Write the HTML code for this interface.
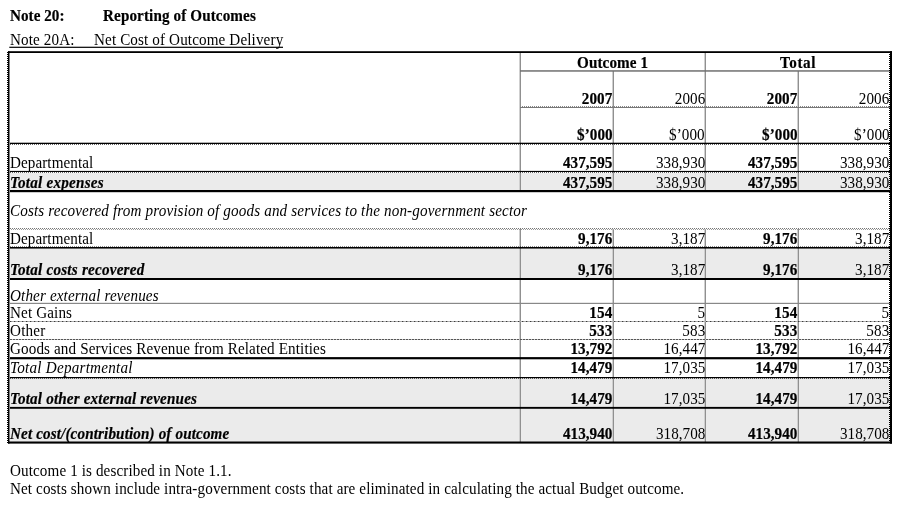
<!DOCTYPE html>
<html><head><meta charset="utf-8"><title>Note 20</title>
<style>
html,body{margin:0;padding:0;background:#fff}
body{width:900px;height:508px;position:relative;overflow:hidden;font-family:"Liberation Serif",serif;font-size:16px;color:#000}
.t{position:absolute;white-space:nowrap;line-height:20px;height:20px;transform:scaleX(0.945)}
.tl{transform-origin:0 0}.tr{transform-origin:100% 0;text-align:right}.tc{transform-origin:50% 0;text-align:center}
.l{position:absolute;box-sizing:content-box}
.b{font-weight:bold;-webkit-text-stroke:0.2px #000}.i{font-style:italic}
</style></head><body>
<svg class="l" style="left:0;top:0" width="900" height="508" viewBox="0 0 900 508"><rect x="10" y="173" width="880" height="17" fill="#ebebeb"/><rect x="10" y="249" width="880" height="29" fill="#ebebeb"/><rect x="10" y="379" width="880" height="28" fill="#ebebeb"/><rect x="10" y="409" width="880" height="33" fill="#ebebeb"/><rect x="520" y="53" width="1" height="138" fill="#909090"/><rect x="519" y="53" width="1" height="138" fill="#cfcfcf"/><rect x="520" y="229" width="1" height="213" fill="#909090"/><rect x="519" y="229" width="1" height="213" fill="#cfcfcf"/><rect x="705" y="53" width="1" height="138" fill="#909090"/><rect x="704" y="53" width="1" height="138" fill="#cfcfcf"/><rect x="705" y="229" width="1" height="213" fill="#909090"/><rect x="704" y="229" width="1" height="213" fill="#cfcfcf"/><rect x="613" y="71" width="1" height="120" fill="#909090"/><rect x="612" y="71" width="1" height="120" fill="#cfcfcf"/><rect x="613" y="229" width="1" height="213" fill="#909090"/><rect x="612" y="229" width="1" height="213" fill="#cfcfcf"/><rect x="798" y="71" width="1" height="120" fill="#909090"/><rect x="797" y="71" width="1" height="120" fill="#cfcfcf"/><rect x="798" y="229" width="1" height="213" fill="#909090"/><rect x="797" y="229" width="1" height="213" fill="#cfcfcf"/><rect x="520" y="70.2" width="370" height="1.5" fill="#707070"/><rect x="520" y="107" width="370" height="1" fill="#777"/><line x1="520" y1="106.5" x2="890" y2="106.5" stroke="#888" stroke-width="1" stroke-dasharray="1 1" stroke-opacity="1"/><line x1="10" y1="228.5" x2="890" y2="228.5" stroke="#777" stroke-width="1" stroke-dasharray="1 1" stroke-opacity="1"/><line x1="11" y1="229.5" x2="890" y2="229.5" stroke="#999" stroke-width="1" stroke-dasharray="1 1" stroke-opacity="1"/><rect x="10" y="302.8" width="880" height="1.2" fill="#888"/><rect x="10" y="321" width="880" height="1" fill="#b0b0b0"/><line x1="10" y1="321.5" x2="890" y2="321.5" stroke="#3a3a3a" stroke-width="1" stroke-dasharray="1.3 2.7"/><rect x="10" y="339" width="880" height="1" fill="#c4c4c4"/><line x1="10" y1="339.5" x2="890" y2="339.5" stroke="#555" stroke-width="1" stroke-dasharray="2 1"/><rect x="10" y="142.7" width="880" height="1.3" fill="#000"/><line x1="10" y1="144.5" x2="890" y2="144.5" stroke="#000" stroke-width="1" stroke-dasharray="1 1" stroke-opacity="0.6"/><rect x="10" y="170.9" width="880" height="1.1" fill="#000"/><line x1="10" y1="172.5" x2="890" y2="172.5" stroke="#000" stroke-width="1" stroke-dasharray="1 1" stroke-opacity="0.6"/><rect x="10" y="190" width="880" height="2.2" fill="#000"/><line x1="10" y1="246.5" x2="890" y2="246.5" stroke="#000" stroke-width="1" stroke-dasharray="1 1" stroke-opacity="0.45"/><rect x="10" y="247" width="880" height="1.6" fill="#000"/><rect x="10" y="278" width="880" height="2" fill="#000"/><rect x="10" y="357.1" width="880" height="2.2" fill="#000"/><rect x="10" y="377" width="880" height="1.2" fill="#000"/><line x1="10" y1="378.5" x2="890" y2="378.5" stroke="#000" stroke-width="1" stroke-dasharray="1 1" stroke-opacity="0.6"/><rect x="10" y="406.9" width="880" height="1.9" fill="#000"/><rect x="8" y="51.2" width="884" height="1.8" fill="#000"/><rect x="8" y="441.5" width="884" height="2.1" fill="#000"/><rect x="8" y="51.2" width="1.5" height="392.4" fill="#000"/><line x1="7.5" y1="52" x2="7.5" y2="443" stroke="#000" stroke-width="1" stroke-dasharray="1 1"/><rect x="890" y="51.2" width="2" height="392.4" fill="#000"/><line x1="889.5" y1="52" x2="889.5" y2="443" stroke="#000" stroke-width="1" stroke-dasharray="1 1"/></svg>
<div id="t1" class="t tl b" style="left:9.8px;top:5.60px;letter-spacing:0.051px;">Note 20:</div>
<div id="t2" class="t tl b" style="left:102.8px;top:5.60px;letter-spacing:0.130px;">Reporting of Outcomes</div>
<div id="t3" class="t tl u" style="left:9.8px;top:29.80px;letter-spacing:0.143px;">Note 20A:</div>
<div id="t4" class="t tl u" style="left:93.9px;top:29.80px;letter-spacing:0.141px;">Net Cost of Outcome Delivery</div>
<svg class="l" style="left:0;top:0" width="900" height="60"><rect x="9.3" y="46.7" width="273.7" height="1.2" fill="#000"/></svg>
<div id="t5" class="t tl b" style="left:576.7px;top:52.60px;letter-spacing:0.129px;">Outcome 1</div>
<div id="t6" class="t tl b" style="left:779.7px;top:52.60px;letter-spacing:0.645px;">Total</div>
<div id="t7" class="t tr b" style="right:287.420px;top:88.60px;letter-spacing:0.085px;">2007</div>
<div id="t8" class="t tr " style="right:194.920px;top:88.60px;letter-spacing:0.085px;">2006</div>
<div id="t9" class="t tr b" style="right:102.420px;top:88.60px;letter-spacing:0.085px;">2007</div>
<div id="t10" class="t tr " style="right:10.420px;top:88.60px;letter-spacing:0.085px;">2006</div>
<div id="t11" class="t tr b" style="right:287.429px;top:124.60px;letter-spacing:0.075px;">$’000</div>
<div id="t12" class="t tr " style="right:194.929px;top:124.60px;letter-spacing:0.075px;">$’000</div>
<div id="t13" class="t tr b" style="right:102.429px;top:124.60px;letter-spacing:0.075px;">$’000</div>
<div id="t14" class="t tr " style="right:10.429px;top:124.60px;letter-spacing:0.075px;">$’000</div>
<div id="t15" class="t tr b" style="right:287.435px;top:152.60px;letter-spacing:0.069px;">437,595</div>
<div id="t16" class="t tr " style="right:194.935px;top:152.60px;letter-spacing:0.069px;">338,930</div>
<div id="t17" class="t tr b" style="right:102.435px;top:152.60px;letter-spacing:0.069px;">437,595</div>
<div id="t18" class="t tr " style="right:10.435px;top:152.60px;letter-spacing:0.069px;">338,930</div>
<div id="t19" class="t tr b" style="right:287.435px;top:172.60px;letter-spacing:0.069px;">437,595</div>
<div id="t20" class="t tr " style="right:194.935px;top:172.60px;letter-spacing:0.069px;">338,930</div>
<div id="t21" class="t tr b" style="right:102.435px;top:172.60px;letter-spacing:0.069px;">437,595</div>
<div id="t22" class="t tr " style="right:10.435px;top:172.60px;letter-spacing:0.069px;">338,930</div>
<div id="t23" class="t tr b" style="right:287.433px;top:228.60px;letter-spacing:0.071px;">9,176</div>
<div id="t24" class="t tr " style="right:194.933px;top:228.60px;letter-spacing:0.071px;">3,187</div>
<div id="t25" class="t tr b" style="right:102.433px;top:228.60px;letter-spacing:0.071px;">9,176</div>
<div id="t26" class="t tr " style="right:10.433px;top:228.60px;letter-spacing:0.071px;">3,187</div>
<div id="t27" class="t tr b" style="right:287.433px;top:259.60px;letter-spacing:0.071px;">9,176</div>
<div id="t28" class="t tr " style="right:194.933px;top:259.60px;letter-spacing:0.071px;">3,187</div>
<div id="t29" class="t tr b" style="right:102.433px;top:259.60px;letter-spacing:0.071px;">9,176</div>
<div id="t30" class="t tr " style="right:10.433px;top:259.60px;letter-spacing:0.071px;">3,187</div>
<div id="t31" class="t tr b" style="right:287.410px;top:302.60px;letter-spacing:0.095px;">154</div>
<div id="t32" class="t tr " style="right:194.940px;top:302.60px;letter-spacing:0.063px;">5</div>
<div id="t33" class="t tr b" style="right:102.410px;top:302.60px;letter-spacing:0.095px;">154</div>
<div id="t34" class="t tr " style="right:10.440px;top:302.60px;letter-spacing:0.063px;">5</div>
<div id="t35" class="t tr b" style="right:287.410px;top:320.60px;letter-spacing:0.095px;">533</div>
<div id="t36" class="t tr " style="right:194.910px;top:320.60px;letter-spacing:0.095px;">583</div>
<div id="t37" class="t tr b" style="right:102.410px;top:320.60px;letter-spacing:0.095px;">533</div>
<div id="t38" class="t tr " style="right:10.410px;top:320.60px;letter-spacing:0.095px;">583</div>
<div id="t39" class="t tr b" style="right:287.434px;top:338.60px;letter-spacing:0.070px;">13,792</div>
<div id="t40" class="t tr " style="right:194.934px;top:338.60px;letter-spacing:0.070px;">16,447</div>
<div id="t41" class="t tr b" style="right:102.434px;top:338.60px;letter-spacing:0.070px;">13,792</div>
<div id="t42" class="t tr " style="right:10.434px;top:338.60px;letter-spacing:0.070px;">16,447</div>
<div id="t43" class="t tr b" style="right:287.434px;top:357.60px;letter-spacing:0.070px;">14,479</div>
<div id="t44" class="t tr " style="right:194.934px;top:357.60px;letter-spacing:0.070px;">17,035</div>
<div id="t45" class="t tr b" style="right:102.434px;top:357.60px;letter-spacing:0.070px;">14,479</div>
<div id="t46" class="t tr " style="right:10.434px;top:357.60px;letter-spacing:0.070px;">17,035</div>
<div id="t47" class="t tr b" style="right:287.434px;top:388.60px;letter-spacing:0.070px;">14,479</div>
<div id="t48" class="t tr " style="right:194.934px;top:388.60px;letter-spacing:0.070px;">17,035</div>
<div id="t49" class="t tr b" style="right:102.434px;top:388.60px;letter-spacing:0.070px;">14,479</div>
<div id="t50" class="t tr " style="right:10.434px;top:388.60px;letter-spacing:0.070px;">17,035</div>
<div id="t51" class="t tr b" style="right:287.435px;top:423.60px;letter-spacing:0.069px;">413,940</div>
<div id="t52" class="t tr " style="right:194.935px;top:423.60px;letter-spacing:0.069px;">318,708</div>
<div id="t53" class="t tr b" style="right:102.435px;top:423.60px;letter-spacing:0.069px;">413,940</div>
<div id="t54" class="t tr " style="right:10.435px;top:423.60px;letter-spacing:0.069px;">318,708</div>
<div id="t55" class="t tl " style="left:9.5px;top:152.60px;letter-spacing:0.088px;">Departmental</div>
<div id="t56" class="t tl b i" style="left:9.5px;top:172.60px;letter-spacing:0.245px;">Total expenses</div>
<div id="t57" class="t tl i" style="left:9.5px;top:200.60px;letter-spacing:0.162px;">Costs recovered from provision of goods and services to the non-government sector</div>
<div id="t58" class="t tl " style="left:9.5px;top:228.60px;letter-spacing:0.088px;">Departmental</div>
<div id="t59" class="t tl b i" style="left:9.5px;top:259.60px;letter-spacing:0.243px;">Total costs recovered</div>
<div id="t60" class="t tl i" style="left:9.5px;top:285.60px;letter-spacing:0.147px;">Other external revenues</div>
<div id="t61" class="t tl " style="left:9.5px;top:302.60px;letter-spacing:0.146px;">Net Gains</div>
<div id="t62" class="t tl " style="left:9.5px;top:320.60px;letter-spacing:0.229px;">Other</div>
<div id="t63" class="t tl " style="left:9.5px;top:338.60px;letter-spacing:0.133px;">Goods and Services Revenue from Related Entities</div>
<div id="t64" class="t tl i" style="left:9.5px;top:357.60px;letter-spacing:0.260px;">Total Departmental</div>
<div id="t65" class="t tl b i" style="left:9.5px;top:388.60px;letter-spacing:0.180px;">Total other external revenues</div>
<div id="t66" class="t tl b i" style="left:9.5px;top:423.60px;letter-spacing:0.147px;">Net cost/(contribution) of outcome</div>
<div id="t67" class="t tl " style="left:9.5px;top:460.60px;letter-spacing:0.124px;">Outcome 1 is described in Note 1.1.</div>
<div id="t68" class="t tl " style="left:9.5px;top:478.60px;letter-spacing:0.127px;">Net costs shown include intra-government costs that are eliminated in calculating the actual Budget outcome.</div>
</body></html>
